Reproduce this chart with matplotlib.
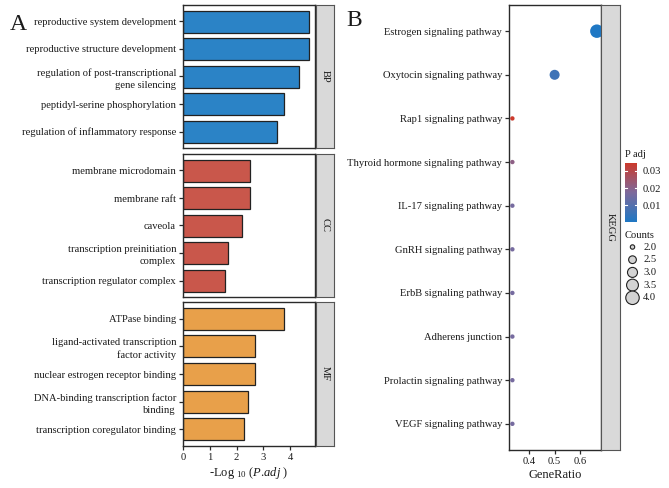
import matplotlib
matplotlib.use("Agg")
import matplotlib.pyplot as plt
import numpy as np
from matplotlib.colors import LinearSegmentedColormap, Normalize

plt.rcParams['font.family'] = ['Liberation Serif', 'DejaVu Serif']
plt.rcParams['mathtext.fontset'] = 'custom'
plt.rcParams['mathtext.rm'] = 'Liberation Serif'
plt.rcParams['mathtext.it'] = 'Liberation Serif:italic'

# ---------------- data ----------------
bp_terms = ["reproductive system development", "reproductive structure development",
            "regulation of post-transcriptional\ngene silencing", "peptidyl-serine phosphorylation",
            "regulation of inflammatory response"]
bp_vals = [4.70, 4.69, 4.33, 3.78, 3.50]
cc_terms = ["membrane microdomain", "membrane raft", "caveola",
            "transcription preinitiation\ncomplex", "transcription regulator complex"]
cc_vals = [2.50, 2.50, 2.21, 1.69, 1.58]
mf_terms = ["ATPase binding", "ligand-activated transcription\nfactor activity",
            "nuclear estrogen receptor binding", "DNA-binding transcription factor\nbinding",
            "transcription coregulator binding"]
mf_vals = [3.78, 2.69, 2.69, 2.41, 2.27]
go_groups = ["BP", "CC", "MF"]
go_colors = ["#2b83c6", "#c9574b", "#e8a04a"]

kegg_terms = ["Estrogen signaling pathway", "Oxytocin signaling pathway", "Rap1 signaling pathway",
              "Thyroid hormone signaling pathway", "IL-17 signaling pathway", "GnRH signaling pathway",
              "ErbB signaling pathway", "Adherens junction", "Prolactin signaling pathway",
              "VEGF signaling pathway"]
kegg_ratio = [4/6, 3/6, 2/6, 2/6, 2/6, 2/6, 2/6, 2/6, 2/6, 2/6]
kegg_count = [4, 3, 2, 2, 2, 2, 2, 2, 2, 2]
kegg_padj = [0.0003, 0.006, 0.0346, 0.021, 0.016, 0.016, 0.016, 0.016, 0.016, 0.016]
count_legend = [2.0, 2.5, 3.0, 3.5, 4.0]
padj_ticks = [0.01, 0.02, 0.03]

# ---------------- layout ----------------
W, H = 669, 488
fig = plt.figure(figsize=(W/100, H/100), dpi=100)
fig.patch.set_facecolor("white")

def ax_px(l, t, r, b, **kw):
    return fig.add_axes([l/W, 1-b/H, (r-l)/W, (b-t)/H], **kw)

TXT = "#1a1a1a"
FS = 7.6
SP = "#2a2a2a"

def style_spines(ax, lw=1.0):
    for s in ax.spines.values():
        s.set_color(SP)
        s.set_linewidth(lw)

def strip(l, t, r, b, label):
    s = ax_px(l, t, r, b)
    s.set_facecolor("#d9d9d9")
    s.set_xticks([]); s.set_yticks([])
    for sp in s.spines.values():
        sp.set_color("#555555"); sp.set_linewidth(0.8)
    s.text(0.5, 0.5, label, rotation=-90, ha="center", va="center",
           fontsize=FS, color=TXT, transform=s.transAxes)

panels = [(5, 148, bp_terms, bp_vals), (154, 297, cc_terms, cc_vals), (302, 446, mf_terms, mf_vals)]
for i, (t, b, terms, vals) in enumerate(panels):
    ax = ax_px(183, t, 315, b)
    y = np.arange(len(terms), 0, -1)
    ax.barh(y, vals, height=0.8, color=go_colors[i], edgecolor="#222222", linewidth=0.9)
    ax.set_ylim(0.4, len(terms) + 0.6)
    ax.set_xlim(0, 4.93)
    ax.set_yticks(y)
    ax.set_yticklabels(terms, fontsize=FS, color=TXT)
    for lab in ax.get_yticklabels():
        lab.set_linespacing(1.45)
    ax.tick_params(axis="y", length=3, width=0.9, color=SP, pad=2)
    style_spines(ax)
    if i < 2:
        ax.set_xticks([])
    else:
        ax.set_xticks([0, 1, 2, 3, 4])
        ax.tick_params(axis="x", length=3, width=0.9, color=SP, labelsize=FS, labelcolor=TXT, pad=2)
        ax.set_xlabel(r"-Log $_{10}$ ($\mathit{P}$.$\mathit{adj}$ )", fontsize=9, color=TXT, labelpad=2)
    strip(316, t, 334, b, go_groups[i])

# ---------------- panel B ----------------
cmap = LinearSegmentedColormap.from_list("padj", ["#1f78c4", "#7e6a9c", "#cc3a2c"])
norm = Normalize(vmin=min(kegg_padj), vmax=max(kegg_padj))

def size_of(c):
    c = np.asarray(c, dtype=float)
    return 10 + (c - 2.0) / 2.0 * 84

axb = ax_px(509, 5, 601, 450)
yk = np.arange(len(kegg_terms), 0, -1)
axb.scatter(kegg_ratio, yk, s=size_of(kegg_count), c=cmap(norm(np.array(kegg_padj))),
            edgecolors="none", zorder=3, clip_on=True)
axb.set_ylim(0.4, len(kegg_terms) + 0.6)
axb.set_xlim(0.32, 0.683)
axb.set_yticks(yk)
axb.set_yticklabels(kegg_terms, fontsize=FS, color=TXT)
axb.set_xticks([0.4, 0.5, 0.6])
axb.set_xticklabels(["0.4", "0.5", "0.6"])
axb.tick_params(axis="y", length=3, width=0.9, color=SP, pad=2)
axb.tick_params(axis="x", length=3, width=0.9, color=SP, labelsize=FS, labelcolor=TXT, pad=2)
axb.set_xlabel("GeneRatio", fontsize=9, color=TXT, labelpad=2)
style_spines(axb)
strip(601, 5, 620, 450, "KEGG")

# colorbar legend
cax = ax_px(625, 163, 637, 222)
grad = np.linspace(norm.vmin, norm.vmax, 256)[:, None]
cax.imshow(grad, aspect="auto", cmap=cmap, norm=norm, origin="lower",
           extent=[0, 1, norm.vmin, norm.vmax])
cax.set_xticks([])
cax.yaxis.tick_right()
cax.set_yticks(padj_ticks)
cax.set_yticklabels([f"{v:.2f}" for v in padj_ticks], fontsize=FS, color=TXT)
cax.tick_params(axis="y", length=0, pad=4)
for v in padj_ticks:
    cax.plot([0, 0.2], [v, v], color="white", lw=0.8)
    cax.plot([0.8, 1], [v, v], color="white", lw=0.8)
for sp in cax.spines.values():
    sp.set_visible(False)
fig.text(625/W, 1-154/H, "P adj", fontsize=FS, color=TXT, ha="left", va="center")

# size legend (pixel overlay axes)
ov = fig.add_axes([0, 0, 1, 1], zorder=-1)
ov.set_xlim(0, W); ov.set_ylim(H, 0); ov.axis("off")
fig.text(625/W, 1-235/H, "Counts", fontsize=FS, color=TXT, ha="left", va="center")
ly = 247 + np.arange(len(count_legend)) * 12.7
ov.scatter([632.5]*len(count_legend), ly, s=size_of(count_legend), facecolor="#d3d3d3",
           edgecolor="#222222", linewidths=0.8)
for yy, v in zip(ly, count_legend):
    ov.text(643, yy, f"{v:.1f}", fontsize=FS, color=TXT, ha="left", va="center")

fig.text(10/W, 1-25/H, "A", fontsize=17, color=TXT, ha="left", va="center")
fig.text(346/W, 1-20/H, "B", fontsize=17, color=TXT, ha="left", va="center")

fig.savefig("out.png", dpi=100, facecolor="white")
